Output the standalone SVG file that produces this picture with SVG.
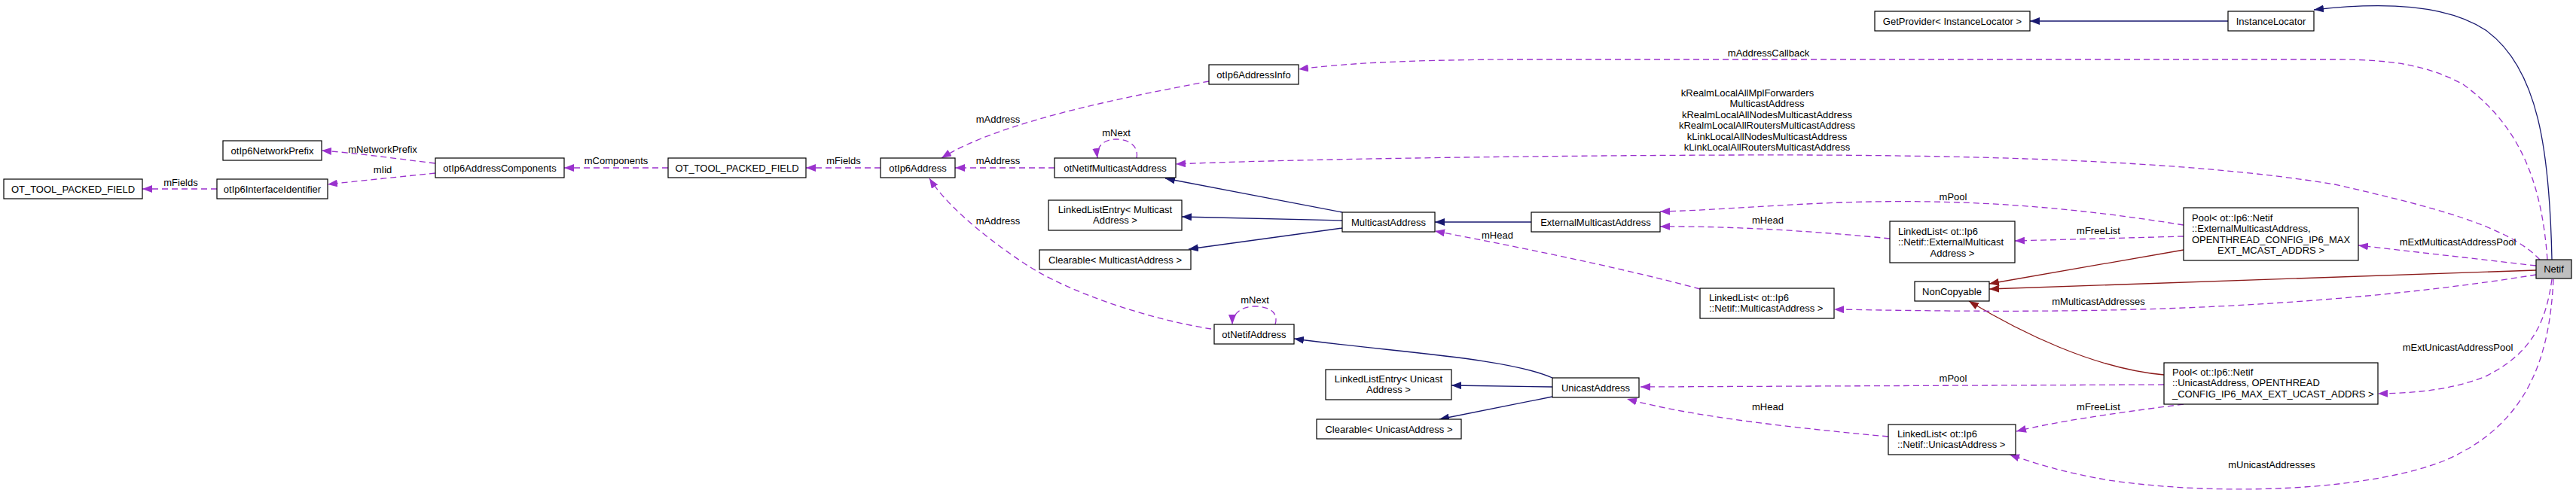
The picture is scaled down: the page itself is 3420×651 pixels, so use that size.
<svg xmlns="http://www.w3.org/2000/svg" width="3420" height="651" viewBox="0 0 3420 651">
<style>
text{font-family:"Liberation Sans",Arial,sans-serif;font-size:13px;fill:#000}
.c{text-anchor:middle}
.box{fill:#fff;stroke:#000;stroke-width:1.2}
.cur{fill:#bfbfbf;stroke:#000;stroke-width:1.2}
.d{fill:none;stroke:#9a32cd;stroke-width:1.3;stroke-dasharray:8,5;marker-end:url(#ap)}
.i{fill:none;stroke:#191970;stroke-width:1.3;marker-end:url(#an)}
.r{fill:none;stroke:#8b1a1a;stroke-width:1.3;marker-end:url(#ar)}
</style>
<defs>
<marker id="ap" markerUnits="userSpaceOnUse" markerWidth="14" markerHeight="10" refX="13" refY="5" orient="auto"><path d="M0,0 L13,5 L0,10 z" fill="#9a32cd"/></marker>
<marker id="an" markerUnits="userSpaceOnUse" markerWidth="14" markerHeight="10" refX="13" refY="5" orient="auto"><path d="M0,0 L13,5 L0,10 z" fill="#191970"/></marker>
<marker id="ar" markerUnits="userSpaceOnUse" markerWidth="14" markerHeight="10" refX="13" refY="5" orient="auto"><path d="M0,0 L13,5 L0,10 z" fill="#8b1a1a"/></marker>
</defs>
<rect width="3420" height="651" fill="#fff"/>
<g id="edges">
<path class="d" d="M288,251 L189,251"/>
<path class="d" d="M578,217 C520,210 470,203 427,200"/>
<path class="d" d="M578,230 C520,236 470,241 435,245"/>
<path class="d" d="M887,223 L749,223"/>
<path class="d" d="M1169,223 L1070,223"/>
<path class="d" d="M1400,223 L1268,223"/>
<path class="d" d="M1605,108 C1500,128 1330,160 1250,210"/>
<path class="d" d="M1608,437 C1530,425 1420,390 1360,350 C1300,310 1255,270 1234,237"/>
<path class="d" d="M1509,210 C1512,195 1500,185 1482,185 C1465,185 1455,195 1457,210"/>
<path class="d" d="M1693,431 C1698,415 1685,407 1666,407 C1648,407 1636,417 1636,431"/>
<path class="i" d="M1782,282 L1547,237"/>
<path class="i" d="M1782,293 L1569,288"/>
<path class="i" d="M1782,303 L1578,331"/>
<path class="i" d="M2033,295 L1905,295"/>
<path class="d" d="M2257,384 C2150,355 2000,325 1905,307"/>
<path class="d" d="M2509,317 C2420,308 2300,300 2204,301"/>
<path class="d" d="M2899,299 C2750,275 2600,262 2420,270 C2330,274 2260,280 2204,281"/>
<path class="d" d="M2899,314 L2675,320"/>
<path class="r" d="M2899,332 L2641,377"/>
<path class="r" d="M3367,359 L2641,384"/>
<path class="r" d="M2873,498 C2780,490 2680,440 2614,400"/>
<path class="d" d="M3367,353 L3131,326"/>
<path class="d" d="M3367,365 C3200,392 3000,408 2800,412 C2650,415 2500,412 2435,411"/>
<path class="d" d="M3388,371 C3380,430 3360,470 3300,500 C3250,520 3200,522 3157,523"/>
<path class="d" d="M3390,371 C3385,470 3360,560 3250,610 C3150,652 2950,660 2800,638 C2740,628 2700,615 2668,604"/>
<path class="d" d="M2873,511 L2178,514"/>
<path class="d" d="M2899,537 C2800,550 2730,560 2677,573"/>
<path class="d" d="M2507,580 C2400,570 2250,555 2160,530"/>
<path class="i" d="M2061,502 C2000,475 1850,468 1718,450"/>
<path class="i" d="M2061,514 L1927,512"/>
<path class="i" d="M2061,527 L1911,557"/>
<path class="i" d="M3388,345 C3385,200 3370,90 3300,40 C3240,0 3140,5 3072,13"/>
<path class="i" d="M2958,28 L2695,28"/>
<path class="d" d="M3382,345 C3375,250 3350,170 3270,112 C3220,85 3170,79 3100,79 L2000,79 C1850,80 1780,85 1724,92"/>
<path class="d" d="M3372,345 C3330,300 3230,275 3100,245 C2900,212 2600,205 2300,206 C2000,207 1700,212 1561,218"/>
<text class="c" x="240" y="247">mFields</text>
<text class="c" x="508" y="203">mNetworkPrefix</text>
<text class="c" x="508" y="230">mIid</text>
<text class="c" x="818" y="218">mComponents</text>
<text class="c" x="1120" y="218">mFields</text>
<text class="c" x="1325" y="218">mAddress</text>
<text class="c" x="1325" y="163">mAddress</text>
<text class="c" x="1325" y="298">mAddress</text>
<text class="c" x="1482" y="181">mNext</text>
<text class="c" x="1666" y="403">mNext</text>
<text class="c" x="1988" y="317">mHead</text>
<text class="c" x="2347" y="297">mHead</text>
<text class="c" x="2593" y="266">mPool</text>
<text class="c" x="2786" y="311">mFreeList</text>
<text class="c" x="3263" y="326">mExtMulticastAddressPool</text>
<text class="c" x="2786" y="405">mMulticastAddresses</text>
<text class="c" x="3263" y="466">mExtUnicastAddressPool</text>
<text class="c" x="2593" y="507">mPool</text>
<text class="c" x="2786" y="545">mFreeList</text>
<text class="c" x="2347" y="545">mHead</text>
<text class="c" x="3016" y="622">mUnicastAddresses</text>
<text class="c" x="2348" y="75">mAddressCallback</text>
<text class="c" x="2320" y="127.5">kRealmLocalAllMplForwarders</text>
<text class="c" x="2346" y="142">MulticastAddress</text>
<text class="c" x="2346" y="156.5">kRealmLocalAllNodesMulticastAddress</text>
<text class="c" x="2346" y="171">kRealmLocalAllRoutersMulticastAddress</text>
<text class="c" x="2346" y="185.5">kLinkLocalAllNodesMulticastAddress</text>
<text class="c" x="2346" y="200">kLinkLocalAllRoutersMulticastAddress</text>
</g>
<g id="n_otfield1"><rect class="box" x="5" y="238" width="184" height="26"/><text class="c" x="97" y="255.5">OT_TOOL_PACKED_FIELD</text></g>
<g id="n_iid"><rect class="box" x="288" y="238" width="147" height="26"/><text class="c" x="361.5" y="255.5">otIp6InterfaceIdentifier</text></g>
<g id="n_prefix"><rect class="box" x="296" y="187" width="131" height="26"/><text class="c" x="361.5" y="204.5">otIp6NetworkPrefix</text></g>
<g id="n_comp"><rect class="box" x="578" y="210" width="171" height="26"/><text class="c" x="663.5" y="227.5">otIp6AddressComponents</text></g>
<g id="n_otfield2"><rect class="box" x="887" y="210" width="183" height="26"/><text class="c" x="978.5" y="227.5">OT_TOOL_PACKED_FIELD</text></g>
<g id="n_addr"><rect class="box" x="1169" y="210" width="99" height="26"/><text class="c" x="1218.5" y="227.5">otIp6Address</text></g>
<g id="n_nma"><rect class="box" x="1400" y="210" width="161" height="26"/><text class="c" x="1480.5" y="227.5">otNetifMulticastAddress</text></g>
<g id="n_info"><rect class="box" x="1605" y="86" width="119" height="26"/><text class="c" x="1664.5" y="103.5">otIp6AddressInfo</text></g>
<g id="n_llem"><rect class="box" x="1392" y="266" width="177" height="40"/><text class="c" x="1480.5" y="282.5">LinkedListEntry&lt; Multicast</text><text class="c" x="1480.5" y="297">Address &gt;</text></g>
<g id="n_clm"><rect class="box" x="1380" y="332" width="201" height="26"/><text class="c" x="1480.5" y="349.5">Clearable&lt; MulticastAddress &gt;</text></g>
<g id="n_ma"><rect class="box" x="1782" y="282" width="123" height="26"/><text class="c" x="1843.5" y="299.5">MulticastAddress</text></g>
<g id="n_ema"><rect class="box" x="2033" y="282" width="171" height="26"/><text class="c" x="2118.5" y="299.5">ExternalMulticastAddress</text></g>
<g id="n_lle"><rect class="box" x="2509" y="294" width="166" height="55"/><text x="2520" y="311.5">LinkedList&lt; ot::Ip6</text><text x="2520" y="326">::Netif::ExternalMulticast</text><text class="c" x="2592" y="340.5">Address &gt;</text></g>
<g id="n_pe"><rect class="box" x="2899" y="276" width="232" height="70"/><text x="2910" y="293.5">Pool&lt; ot::Ip6::Netif</text><text x="2910" y="308">::ExternalMulticastAddress,</text><text class="c" x="3015" y="322.5">OPENTHREAD_CONFIG_IP6_MAX</text><text class="c" x="3015" y="337">EXT_MCAST_ADDRS &gt;</text></g>
<g id="n_llm"><rect class="box" x="2257" y="383" width="178" height="40"/><text x="2269" y="399.5">LinkedList&lt; ot::Ip6</text><text x="2269" y="414">::Netif::MulticastAddress &gt;</text></g>
<g id="n_nc"><rect class="box" x="2542" y="374" width="99" height="26"/><text class="c" x="2591.5" y="391.5">NonCopyable</text></g>
<g id="n_netif"><rect class="cur" x="3367" y="345" width="47" height="25"/><text class="c" x="3390.5" y="362">Netif</text></g>
<g id="n_gp"><rect class="box" x="2489" y="15" width="206" height="26"/><text class="c" x="2592" y="32.5">GetProvider&lt; InstanceLocator &gt;</text></g>
<g id="n_il"><rect class="box" x="2958" y="15" width="114" height="26"/><text class="c" x="3015" y="32.5">InstanceLocator</text></g>
<g id="n_na"><rect class="box" x="1612" y="431" width="106" height="26"/><text class="c" x="1665" y="448.5">otNetifAddress</text></g>
<g id="n_lleu"><rect class="box" x="1760" y="491" width="167" height="40"/><text class="c" x="1843.5" y="507.5">LinkedListEntry&lt; Unicast</text><text class="c" x="1843.5" y="522">Address &gt;</text></g>
<g id="n_clu"><rect class="box" x="1748" y="557" width="192" height="26"/><text class="c" x="1844" y="574.5">Clearable&lt; UnicastAddress &gt;</text></g>
<g id="n_ua"><rect class="box" x="2061" y="502" width="115" height="26"/><text class="c" x="2118.5" y="519.5">UnicastAddress</text></g>
<g id="n_pu"><rect class="box" x="2873" y="482" width="284" height="55"/><text x="2884" y="498.5">Pool&lt; ot::Ip6::Netif</text><text x="2884" y="513">::UnicastAddress, OPENTHREAD</text><text x="2884" y="527.5">_CONFIG_IP6_MAX_EXT_UCAST_ADDRS &gt;</text></g>
<g id="n_llu"><rect class="box" x="2507" y="564" width="169" height="40"/><text x="2519" y="580.5">LinkedList&lt; ot::Ip6</text><text x="2519" y="595">::Netif::UnicastAddress &gt;</text></g>
</svg>
